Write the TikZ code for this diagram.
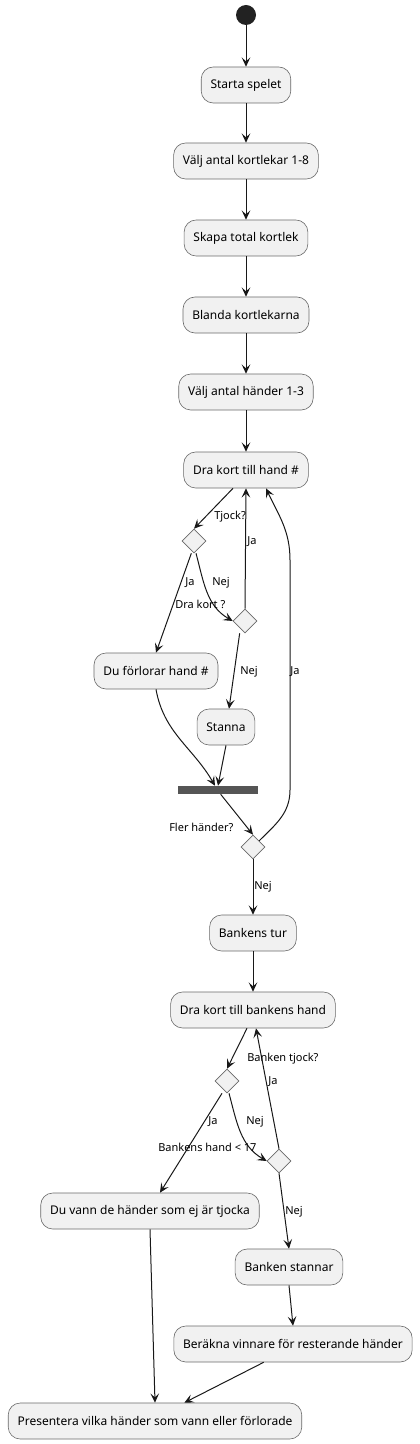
\documentclass[tikz,border=0pt]{standalone}
\usepackage{fontspec}
\setmainfont{Noto Sans}
\usetikzlibrary{arrows.meta,shapes.geometric}
\definecolor{actfill}{RGB}{241,241,241}
\definecolor{actline}{RGB}{24,24,24}
\definecolor{barfill}{RGB}{85,85,85}
\definecolor{startfill}{RGB}{34,34,34}

\begin{document}
\begin{tikzpicture}[x=0.75pt,y=-0.75pt,
  act/.style={draw=actline!65,fill=actfill,rounded corners=9pt,minimum height=27pt,
    inner xsep=7pt,line width=0.45pt,font=\fontsize{9}{11}\selectfont},
  cond/.style={diamond,draw=actline!65,fill=actfill,minimum size=18pt,inner sep=0pt,line width=0.45pt},
  lbl/.style={anchor=west,inner sep=0pt,font=\fontsize{8.25}{10}\selectfont},
  flow/.style={draw=actline,line width=0.75pt,-{Stealth[length=7pt,width=6.5pt,inset=3pt]}}]
  \useasboundingbox (0,0) rectangle (419,1444);
  % start and the player's part
  \node[circle,fill=startfill,minimum size=15pt,inner sep=0pt] (start) at (246,15) {};
  \node[act] (spel) at (246,85) {Starta spelet};
  \node[act] (lekar) at (246,161) {Välj antal kortlekar 1-8};
  \node[act] (total) at (246,238) {Skapa total kortlek};
  \node[act] (blanda) at (246,315) {Blanda kortlekarna};
  \node[act] (hander) at (246,392) {Välj antal händer 1-3};
  \node[act] (hand) at (246,470) {Dra kort till hand \#};
  \node[cond] (tjock) at (194,541) {};
  \node[cond] (drakort) at (245,621) {};
  \node[act] (forlorar) at (156,671) {Du förlorar hand \#};
  \node[act] (stanna) at (226,727) {Stanna};
  \node[fill=barfill,minimum width=60pt,minimum height=6pt,inner sep=0pt] (bar) at (218,790) {};
  \node[cond] (fler) at (253,847) {};
  % the bank's part
  \node[act] (banktur) at (253,933) {Bankens tur};
  \node[act] (bankhand) at (253,1010) {Dra kort till bankens hand};
  \node[cond] (banktjock) at (227,1081) {};
  \node[cond] (sjutton) at (279,1161) {};
  \node[act] (vann) at (150,1211) {Du vann de händer som ej är tjocka};
  \node[act] (stannar) at (289,1267) {Banken stannar};
  \node[act] (vinnare) at (293,1344) {Beräkna vinnare för resterande händer};
  \node[act] (presentera) at (155,1421) {Presentera vilka händer som vann eller förlorade};
  \coordinate (loopa) at (290,790);
  \coordinate (loopb) at (290,560);

  \draw[flow] (start) -- (spel);
  \draw[flow] (spel) -- (lekar);
  \draw[flow] (lekar) -- (total);
  \draw[flow] (total) -- (blanda);
  \draw[flow] (blanda) -- (hander);
  \draw[flow] (hander) -- (hand);
  \draw[flow] ([xshift=-9.75pt]hand.south) -- (tjock.north);
  \draw[flow] ([xshift=-2pt]tjock.south) -- (forlorar.north);
  \draw[flow] ([xshift=1.5pt]tjock.south) to[out=-75,in=150] (drakort.west);
  \draw[flow] (drakort.north) -- (hand.south);
  \draw[flow] ([xshift=-4pt]drakort.south) -- ([xshift=2.25pt]stanna.north);
  \draw[flow] (forlorar.south) to[out=-80,in=120] ([xshift=-2.25pt]bar.north);
  \draw[flow] (stanna.south) -- (bar.north);
  \draw[flow] ([xshift=2pt]bar.south) -- (fler.north);
  \draw[flow] (fler.north east) to[out=45,in=-90] (loopa) -- (loopb)
    to[out=90,in=-65] ([xshift=15pt]hand.south);
  \draw[flow] (fler.south) -- (banktur.north);
  \draw[flow] (banktur) -- (bankhand);
  \draw[flow] ([xshift=-4.5pt]bankhand.south) -- (banktjock.north);
  \draw[flow] ([xshift=-3.75pt]banktjock.south) -- ([xshift=7.5pt]vann.north);
  \draw[flow] ([xshift=1.5pt]banktjock.south) to[out=-75,in=150] (sjutton.west);
  \draw[flow] (sjutton.north) -- ([xshift=2.25pt]bankhand.south);
  \draw[flow] (sjutton.south) -- (stannar.north);
  \draw[flow] (stannar.south) -- (vinnare.north);
  \draw[flow] ([xshift=-22pt]vinnare.south) -- ([xshift=22pt]presentera.north);
  \draw[flow] (vann.south) -- (presentera.north);

  \node[lbl] (l1) at (214,517) {Tjock?};
  \node[lbl] (l2) at (185,583) {Ja};
  \node[lbl] (l3) at (212,583) {Nej};
  \node[lbl] (l4) at (175,604) {Dra kort ?};
  \node[lbl] (l5) at (247,542) {Ja};
  \node[lbl] (l6) at (240,672) {Nej};
  \node[lbl] (l7) at (290,672) {Ja};
  \node[lbl] (l8) at (169,827) {Fler händer?};
  \node[lbl] (l9) at (254,887) {Nej};
  \node[lbl] (l10) at (247,1059) {Banken tjock?};
  \node[lbl] (l11) at (268,1082) {Ja};
  \node[lbl] (l12) at (208,1122) {Ja};
  \node[lbl] (l13) at (246,1122) {Nej};
  \node[lbl] (l14) at (158,1147) {Bankens hand < 17};
  \node[lbl] (l15) at (285,1212) {Nej};
\end{tikzpicture}
\end{document}
